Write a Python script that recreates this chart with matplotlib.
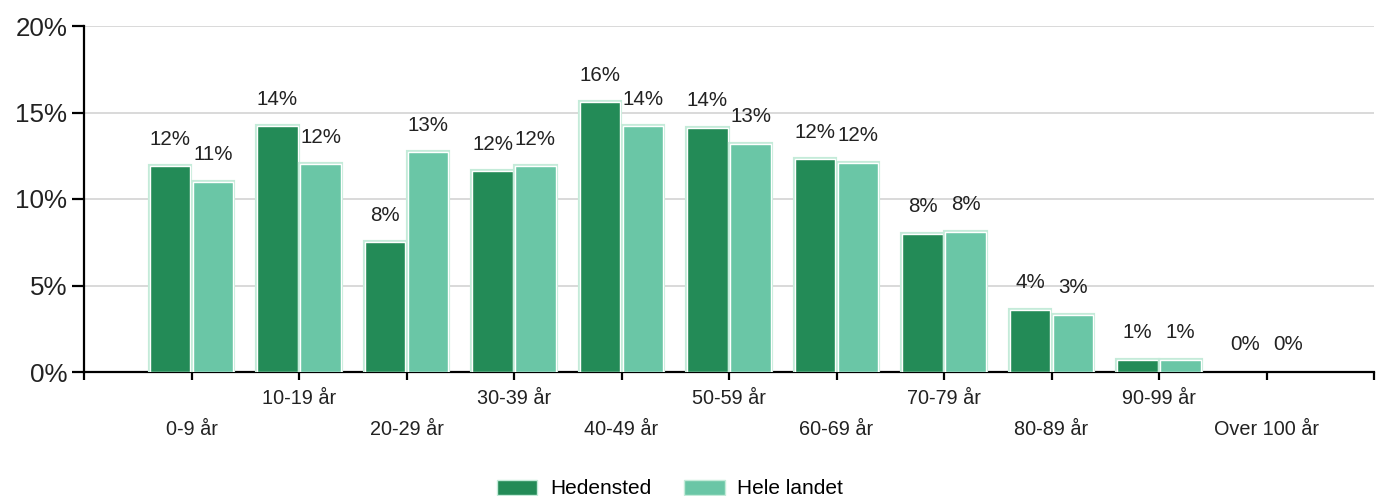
import numpy as np
import matplotlib.pyplot as plt
import matplotlib.patheffects as pe
from matplotlib.patches import Patch

plt.rcParams['font.family'] = ['Liberation Sans', 'DejaVu Sans']

# Age groups and shares (%)
age_groups = ['0-9 år', '10-19 år', '20-29 år', '30-39 år', '40-49 år', '50-59 år',
              '60-69 år', '70-79 år', '80-89 år', '90-99 år', 'Over 100 år']
hedensted = [11.9, 14.2, 7.5, 11.6, 15.6, 14.1, 12.3, 8.0, 3.6, 0.7, 0.0]
hele_landet = [11.0, 12.0, 12.7, 11.9, 14.2, 13.2, 12.1, 8.1, 3.3, 0.7, 0.0]
series_names = ['Hedensted', 'Hele landet']
colors = ['#238b57', '#6ac6a6']
y_ticks = [0, 5, 10, 15, 20]

W, H = 1383, 496
fig = plt.figure(figsize=(W / 100, H / 100), dpi=100)
ax = fig.add_axes([84 / W, (H - 372) / H, (1374 - 84) / W, (372 - 26) / H])

x = np.arange(len(age_groups))
width = 0.38
outline = [pe.withStroke(linewidth=3, foreground='#c4ebd9')]

for vals, off, col in [(hedensted, -0.2, colors[0]), (hele_landet, 0.2, colors[1])]:
    bars = ax.bar(x + off, vals, width, color=col, edgecolor='white', linewidth=1, zorder=3)
    for b, v in zip(bars, vals):
        if v > 0:
            b.set_path_effects(outline)
        else:
            b.set_visible(False)
        ax.annotate(f'{round(v):.0f}%', (b.get_x() + b.get_width() / 2, v),
                    xytext=(0, 19.5), textcoords='offset points',
                    ha='center', va='center', fontsize=14.8, color='#222222')

ax.set_xlim(-1, 11)
ax.set_ylim(0, 20)
ax.set_yticks(y_ticks)
ax.set_yticklabels([f'{t}%' for t in y_ticks], fontsize=18.7, color='#222222')
ax.yaxis.grid(True, color='#d9d9d9', linewidth=1.4, zorder=0)
ax.set_axisbelow(True)

# ticks at every category plus both ends; labels alternate on two rows
ax.set_xticks(np.arange(-1, 12))
labels = ['']
for i, lab in enumerate(age_groups):
    labels.append('\n' + lab if i % 2 == 0 else lab)
labels.append('')
ax.set_xticklabels(labels, fontsize=14.3, color='#222222', linespacing=1.75)

for s in ['top', 'right']:
    ax.spines[s].set_visible(False)
for s in ['left', 'bottom']:
    ax.spines[s].set_linewidth(1.6)
    ax.spines[s].set_color('black')
ax.tick_params(axis='y', length=9, width=1.6, pad=3)
ax.tick_params(axis='x', length=6, width=1.6, pad=6.5)

handles = [Patch(facecolor=c, edgecolor='#c4ebd9', linewidth=1) for c in colors]
fig.legend(handles, series_names, loc='center', bbox_to_anchor=(670 / W, 1 - 489 / H),
           ncol=2, frameon=False, fontsize=15, handlelength=1.95, handleheight=0.75,
           handletextpad=0.6, columnspacing=1.6)

fig.savefig('out.png', dpi=100)
